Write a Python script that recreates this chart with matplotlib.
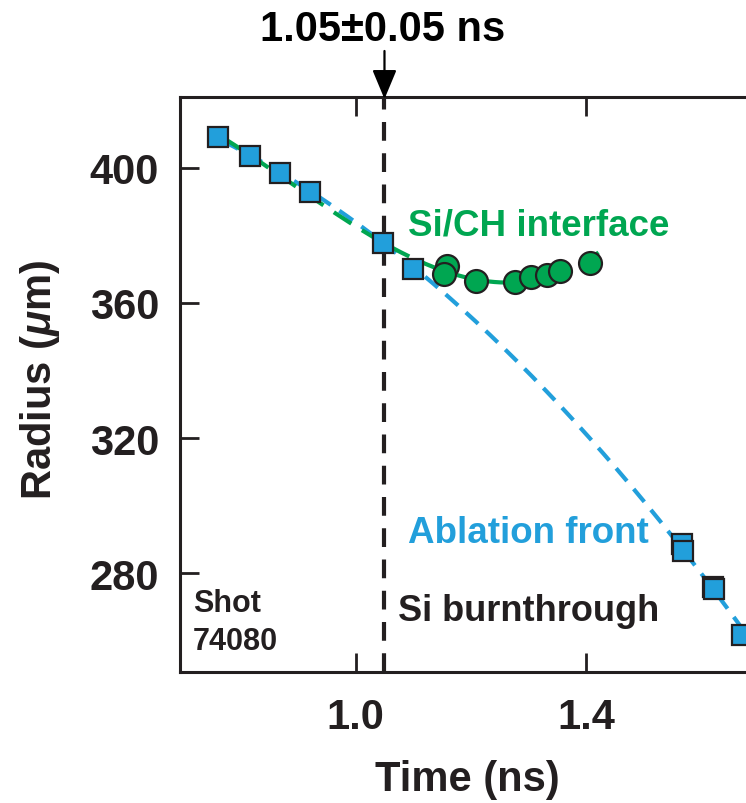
import numpy as np
import matplotlib
matplotlib.use("Agg")
import matplotlib.pyplot as plt

plt.rcParams['font.family'] = ['Liberation Sans', 'DejaVu Sans']
plt.rcParams['font.weight'] = 'bold'
plt.rcParams['mathtext.fontset'] = 'custom'
plt.rcParams['mathtext.it'] = 'Liberation Sans:italic:bold'
plt.rcParams['mathtext.rm'] = 'Liberation Sans:bold'

# Ablation front (squares), time in ns, radius in um
abl_t = [0.761, 0.817, 0.869, 0.921, 1.048, 1.100, 1.567, 1.568, 1.621, 1.622, 1.671]
abl_r = [409.2, 403.6, 398.5, 392.9, 377.8, 370.1, 288.6, 286.5, 276.0, 275.4, 261.6]

# Si/CH interface (circles)
int_t = [1.159, 1.154, 1.209, 1.277, 1.305, 1.332, 1.355, 1.407]
int_r = [371.0, 368.6, 366.5, 366.2, 367.7, 368.3, 369.5, 371.9]

burnthrough_t = 1.05

x_ticks = [1.0, 1.4]
y_ticks = [280, 320, 360, 400]

BLUE = '#229fdb'
GREEN = '#00a651'
DARK = '#231f20'

fig = plt.figure(figsize=(7.46, 8.04), dpi=100)
W, H = 746, 804
x0, x1 = 0.695, 1.75
y0, y1 = 250.7, 421.0
ax_w = (x1 - x0) * 576 / W
ax = fig.add_axes([180 / W, (H - 673) / H, ax_w, (673 - 98) / H])
ax.set_xlim(x0, x1)
ax.set_ylim(y0, y1)

# Fits through the measured points
pa = np.polyfit(abl_t, abl_r, 2)
ta = np.linspace(0.77, 1.75, 200)
ax.plot(ta, np.polyval(pa, ta), color=BLUE, lw=3.0, dashes=(4, 2.5), zorder=2)

gt = abl_t[:6] + int_t
gr = abl_r[:6] + int_r
pg = np.polyfit(gt, gr, 3)
tg = np.linspace(0.77, 1.43, 200)
ax.plot(tg, np.polyval(pg, tg), color=GREEN, lw=3.0, dashes=(5, 3), zorder=2)

ax.axvline(burnthrough_t, color=DARK, lw=3.0, dashes=(4.5, 3), zorder=1)

ax.plot(abl_t, abl_r, 's', ms=14.5, mfc=BLUE, mec=DARK, mew=1.6, zorder=3)
ax.plot(int_t, int_r, 'o', ms=16.5, mfc=GREEN, mec=DARK, mew=1.6, zorder=4)

for s in ax.spines.values():
    s.set_linewidth(2.2)
    s.set_color(DARK)

ax.set_xticks(x_ticks)
ax.set_xticklabels([f'{v:.1f}' for v in x_ticks])
ax.set_yticks(y_ticks)
ax.tick_params(direction='in', length=14, width=2.0, color=DARK,
               labelsize=30, top=True, right=True, labelcolor=DARK)
ax.tick_params(axis='y', pad=15)
ax.tick_params(axis='x', pad=18)

fig.text(467 / W, 1 - 780 / H, 'Time (ns)', fontsize=30, fontweight='bold',
         ha='center', va='center', color=DARK)
fig.text(40 / W, 1 - 380 / H, r'Radius ($\mu$m)', fontsize=30, fontweight='bold',
         rotation=90, ha='center', va='center', color=DARK)

ax.text(1.091, 383.1, 'Si/CH interface', color=GREEN, fontsize=26.5,
        fontweight='bold', ha='left', va='center')
ax.text(1.091, 291.9, 'Ablation front', color=BLUE, fontsize=26.5,
        fontweight='bold', ha='left', va='center')
ax.text(1.074, 269.0, 'Si burnthrough', color=DARK, fontsize=26,
        fontweight='bold', ha='left', va='center')
ax.text(0.718, 271.0, 'Shot', color=DARK, fontsize=22, fontweight='bold',
        ha='left', va='center')
ax.text(0.718, 260.0, '74080', color=DARK, fontsize=22, fontweight='bold',
        ha='left', va='center')

fig.text(383 / W, 1 - 30 / H, '1.05\u00b10.05 ns', fontsize=30, fontweight='bold',
         ha='center', va='center', color='black')
ax.annotate('', xy=(burnthrough_t, y1 - 0.6), xycoords='data',
            xytext=(burnthrough_t, y1 + 46 / 135 * 40), textcoords='data',
            arrowprops=dict(arrowstyle='-|>,head_length=1.8,head_width=0.75',
                            color='black', lw=1.6, shrinkA=0, shrinkB=0),
            annotation_clip=False)

fig.savefig('out.png', dpi=100)
